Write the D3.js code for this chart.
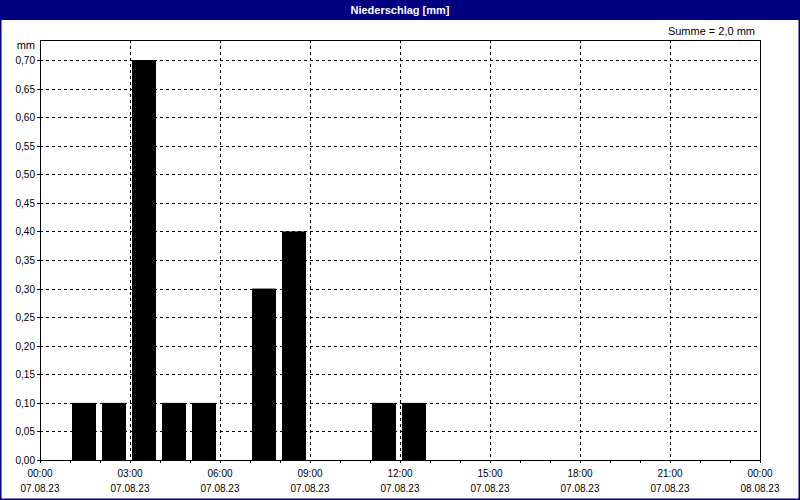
<!DOCTYPE html>
<html><head><meta charset="utf-8">
<script src="https://cdn.jsdelivr.net/npm/d3@7"></script>
<style>body{margin:0;background:#fff}text{font-family:"DejaVu Sans",sans-serif}</style>
</head><body><svg id="c" width="800" height="500"></svg>
<script>
const title = "Niederschlag [mm]";
const sumLabel = "Summe = 2,0 mm";
const unitLabel = "mm";
const hours = [1, 2, 3, 4, 5, 7, 8, 11, 12];
const values = [0.1, 0.1, 0.7, 0.1, 0.1, 0.3, 0.4, 0.1, 0.1];
const yTicks = [0,0.05,0.1,0.15,0.2,0.25,0.3,0.35,0.4,0.45,0.5,0.55,0.6,0.65,0.7];
const xTickHours = [0,3,6,9,12,15,18,21,24];
const xTimeLabels = ["00:00","03:00","06:00","09:00","12:00","15:00","18:00","21:00","00:00"];
const xDateLabels = ["07.08.23","07.08.23","07.08.23","07.08.23","07.08.23","07.08.23","07.08.23","07.08.23","08.08.23"];

const svg = d3.select("#c");
const W = 800, H = 500;
const L = 40, R = 760, T = 40, B = 460;
const x = d3.scaleLinear().domain([0, 24]).range([L, R]);
const y = d3.scaleLinear().domain([0, 0.7]).range([B, 60]);
const font = "Liberation Sans, Arial, sans-serif";

svg.append("rect").attr("x",0).attr("y",0).attr("width",W).attr("height",H).attr("fill","#fff");
svg.append("rect").attr("x",0.5).attr("y",0.5).attr("width",W-1).attr("height",H-1)
  .attr("fill","none").attr("stroke","#000080").attr("stroke-width",2);
svg.append("rect").attr("x",0).attr("y",0).attr("width",W).attr("height",20).attr("fill","#000080");
svg.append("text").attr("x",W/2).attr("y",14).attr("text-anchor","middle")
  .attr("fill","#fff").style("font-family",font).style("font-size","11px").style("font-weight","bold").text(title);
svg.append("text").attr("x",755).attr("y",35).attr("text-anchor","end")
  .style("font-family",font).style("font-size","11px").text(sumLabel);
svg.append("text").attr("x",35).attr("y",49).attr("text-anchor","end")
  .style("font-family",font).style("font-size","11px").text(unitLabel);

// horizontal grid
const g = svg.append("g");
g.selectAll(".hg").data(yTicks.slice(1)).enter().append("line")
  .attr("x1",L).attr("x2",R).attr("y1",d=>Math.round(y(d))+0.5).attr("y2",d=>Math.round(y(d))+0.5)
  .attr("stroke","#000").attr("stroke-dasharray","3,3").attr("stroke-width",1);
g.selectAll(".vg").data(xTickHours.slice(1,-1)).enter().append("line")
  .attr("y1",T).attr("y2",B).attr("x1",d=>Math.round(x(d))+0.5).attr("x2",d=>Math.round(x(d))+0.5)
  .attr("stroke","#000").attr("stroke-dasharray","3,3").attr("stroke-width",1);

// bars
svg.selectAll(".bar").data(hours.map((h,i)=>({h,v:values[i]}))).enter().append("rect")
  .attr("x",d=>x(d.h)+2).attr("width",(x(1)-x(0))-6)
  .attr("y",d=>y(d.v)).attr("height",d=>B-y(d.v)).attr("fill","#000");

// frame
svg.append("rect").attr("x",L+0.5).attr("y",T+0.5).attr("width",R-L).attr("height",B-T)
  .attr("fill","none").attr("stroke","#000").attr("stroke-width",1);

// x ticks every hour
svg.selectAll(".xt").data(d3.range(0,25)).enter().append("line")
  .attr("x1",d=>Math.round(x(d))+0.5).attr("x2",d=>Math.round(x(d))+0.5)
  .attr("y1",B).attr("y2",B+3).attr("stroke","#000");
// y ticks
svg.selectAll(".yt").data(yTicks).enter().append("line")
  .attr("x1",L-3).attr("x2",L).attr("y1",d=>Math.round(y(d))+0.5).attr("y2",d=>Math.round(y(d))+0.5)
  .attr("stroke","#000");

const fmt = d => d.toFixed(2).replace(".",",");
svg.selectAll(".yl").data(yTicks).enter().append("text")
  .attr("x",35).attr("y",d=>y(d)+4).attr("text-anchor","end")
  .style("font-family",font).style("font-size","10px").text(fmt);

svg.selectAll(".xl1").data(xTickHours).enter().append("text")
  .attr("x",d=>x(d)).attr("y",477).attr("text-anchor","middle")
  .style("font-family",font).style("font-size","10px").text((d,i)=>xTimeLabels[i]);
svg.selectAll(".xl2").data(xTickHours).enter().append("text")
  .attr("x",d=>x(d)).attr("y",492).attr("text-anchor","middle")
  .style("font-family",font).style("font-size","10px").text((d,i)=>xDateLabels[i]);
</script></body></html>
